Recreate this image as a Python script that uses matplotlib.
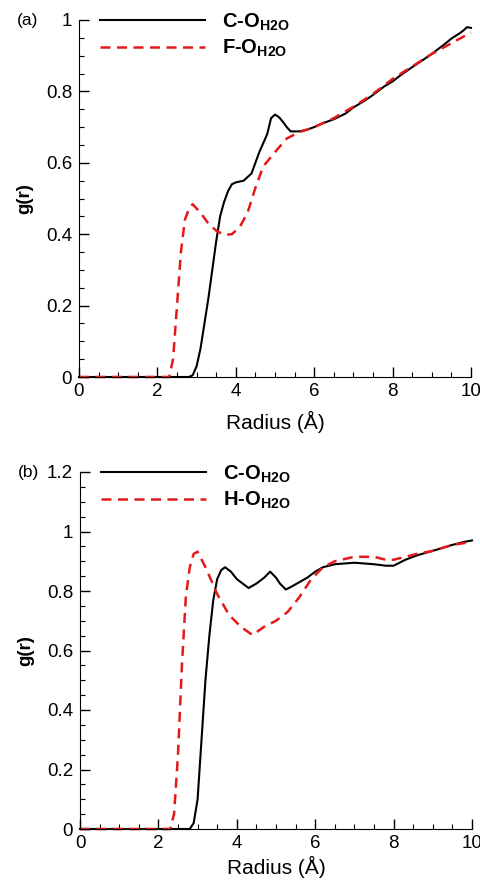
import matplotlib
matplotlib.use("Agg")
import matplotlib.pyplot as plt
from matplotlib.ticker import MultipleLocator, FuncFormatter

plt.rcParams['font.family'] = ['Liberation Sans', 'DejaVu Sans']
plt.rcParams['mathtext.fontset'] = 'custom'
plt.rcParams['mathtext.rm'] = 'Liberation Sans:bold'
plt.rcParams['mathtext.bf'] = 'Liberation Sans:bold'

# Panel (a)
a_co_r = [0, 2.8, 2.9, 3.0, 3.1, 3.2, 3.3, 3.4, 3.5, 3.6, 3.7, 3.8, 3.9, 4.0, 4.2, 4.4, 4.6, 4.8,
          4.9, 5.0, 5.1, 5.2, 5.3, 5.4, 5.6, 5.8, 6.0, 6.2, 6.5, 6.8, 7.0, 7.3, 7.5, 7.8, 8.0, 8.2,
          8.5, 8.8, 9.0, 9.3, 9.5, 9.7, 9.8, 9.9, 10.0]
a_co_g = [0, 0, 0.005, 0.03, 0.08, 0.15, 0.22, 0.30, 0.38, 0.45, 0.49, 0.52, 0.54, 0.545, 0.55, 0.57,
          0.63, 0.68, 0.725, 0.735, 0.728, 0.715, 0.70, 0.688, 0.688, 0.692, 0.70, 0.71, 0.722, 0.738,
          0.755, 0.775, 0.79, 0.815, 0.828, 0.845, 0.868, 0.89, 0.905, 0.93, 0.948, 0.962, 0.97, 0.98, 0.978]
a_fo_r = [0, 2.3, 2.4, 2.5, 2.6, 2.7, 2.8, 2.9, 3.1, 3.3, 3.5, 3.7, 3.9, 4.1, 4.3, 4.5, 4.7, 5.0,
          5.3, 5.6, 6.0, 6.5, 7.0, 7.5, 8.0, 8.5, 9.0, 9.5, 10.0]
a_fo_g = [0, 0, 0.05, 0.20, 0.35, 0.44, 0.47, 0.484, 0.46, 0.43, 0.41, 0.398, 0.40, 0.42, 0.46, 0.53,
          0.59, 0.63, 0.668, 0.685, 0.70, 0.725, 0.757, 0.793, 0.835, 0.87, 0.905, 0.935, 0.965]

# Panel (b)
b_co_r = [0, 2.8, 2.9, 3.0, 3.1, 3.2, 3.3, 3.4, 3.5, 3.6, 3.7, 3.85, 4.0, 4.15, 4.3, 4.5, 4.7, 4.85,
          5.0, 5.1, 5.25, 5.4, 5.6, 5.8, 6.0, 6.2, 6.5, 7.0, 7.5, 7.8, 8.0, 8.3, 8.6, 9.0, 9.5, 9.8, 10.0]
b_co_g = [0, 0, 0.02, 0.10, 0.30, 0.50, 0.65, 0.77, 0.84, 0.87, 0.88, 0.865, 0.84, 0.825, 0.81, 0.825,
          0.845, 0.865, 0.845, 0.825, 0.805, 0.815, 0.83, 0.845, 0.865, 0.88, 0.89, 0.895, 0.89, 0.885,
          0.885, 0.905, 0.92, 0.935, 0.955, 0.965, 0.97]
b_ho_r = [0, 2.3, 2.4, 2.5, 2.6, 2.7, 2.8, 2.9, 3.0, 3.2, 3.5, 3.8, 4.1, 4.4, 4.7, 5.0, 5.3, 5.6, 5.9,
          6.2, 6.5, 7.0, 7.5, 7.8, 8.0, 8.3, 8.6, 9.0, 9.5, 10.0]
b_ho_g = [0, 0, 0.05, 0.25, 0.55, 0.78, 0.88, 0.925, 0.932, 0.88, 0.79, 0.72, 0.68, 0.652, 0.68, 0.70,
          0.73, 0.78, 0.84, 0.88, 0.90, 0.915, 0.915, 0.905, 0.905, 0.915, 0.925, 0.935, 0.955, 0.965]

panels = [
    dict(pos=[79/480, 1-377/883, 392/480, 357/883], tag='(a)', ymax=1.0, xlpad=8,
         lines=[(a_co_r, a_co_g, 'C-O$_{\\mathrm{H2O}}$', 'solid'),
                (a_fo_r, a_fo_g, 'F-O$_{\\mathrm{H2O}}$', 'dashed')]),
    dict(pos=[80/480, 1-829/883, 392/480, 357/883], tag='(b)', ymax=1.2, xlpad=3.5,
         lines=[(b_co_r, b_co_g, 'C-O$_{\\mathrm{H2O}}$', 'solid'),
                (b_ho_r, b_ho_g, 'H-O$_{\\mathrm{H2O}}$', 'dashed')]),
]

fig = plt.figure(figsize=(4.8, 8.83), dpi=100)
FS = 13.5
LFS = 14.5
for p in panels:
    ax = fig.add_axes(p['pos'])
    for r, g, lab, ls in p['lines']:
        if ls == 'solid':
            ax.plot(r, g, color='black', lw=1.5, label=lab, clip_on=False)
        else:
            ax.plot(r, g, color='#e41a1a', lw=1.8, ls=(0, (4, 2.6)), label=lab, clip_on=False)
    ax.set_xlim(0, 10)
    ax.set_ylim(0, p['ymax'])
    for s in ['top', 'right']:
        ax.spines[s].set_visible(False)
    ax.xaxis.set_major_locator(MultipleLocator(2))
    ax.xaxis.set_minor_locator(MultipleLocator(0.5))
    ax.yaxis.set_major_locator(MultipleLocator(0.2))
    ax.yaxis.set_minor_locator(MultipleLocator(0.05))
    ax.yaxis.set_major_formatter(FuncFormatter(lambda v, pos: f'{v:g}'))
    ax.tick_params(which='major', direction='in', length=7, width=1, labelsize=FS)
    ax.tick_params(which='minor', direction='in', length=3.5, width=0.8)
    ax.tick_params(axis='y', pad=5)
    ax.tick_params(axis='x', pad=4)
    ax.set_xlabel('Radius (Å)', fontsize=15, labelpad=p['xlpad'])
    ax.set_ylabel('g(r)', fontsize=FS, fontweight='bold', labelpad=9)
    ax.text(-0.158, 1.0, p['tag'], transform=ax.transAxes, fontsize=12.5, ha='left', va='center')
    leg = ax.legend(loc='upper left', bbox_to_anchor=(0.054, 1.024), frameon=False,
                    prop={'size': LFS, 'weight': 'bold'}, handlelength=5.2, handletextpad=0.85,
                    borderpad=0, borderaxespad=0, labelspacing=0.25)

fig.savefig('out.png', dpi=100)
